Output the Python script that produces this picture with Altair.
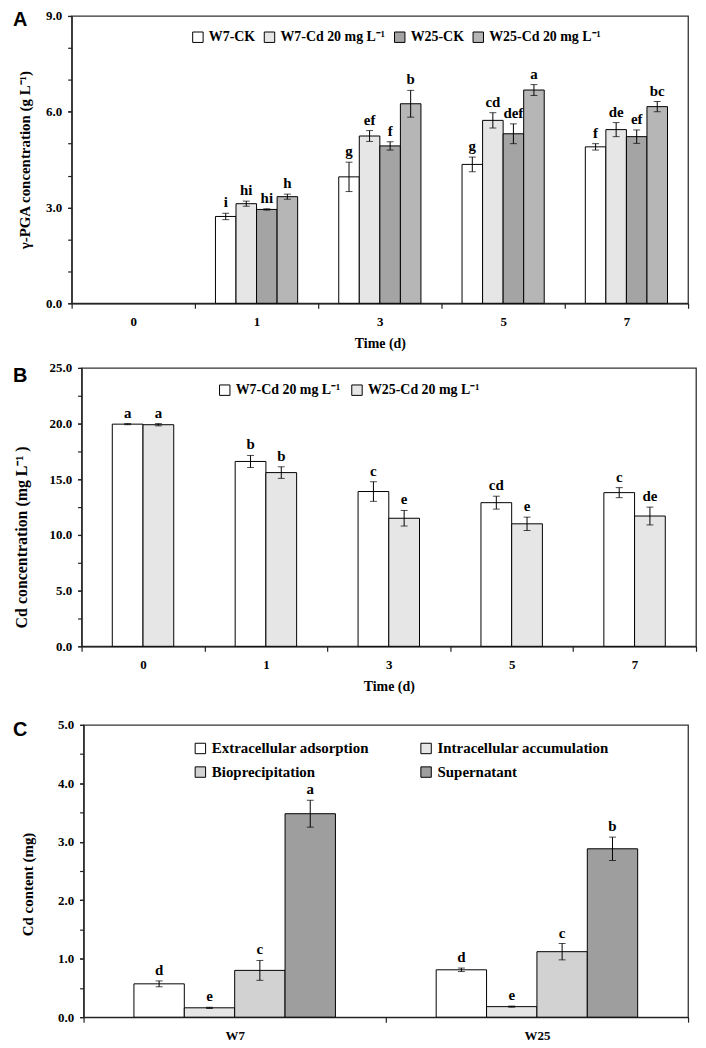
import altair as alt
import pandas as pd

SERIF = "Liberation Serif"
SANS = "Liberation Sans"

# ---------------- Panel A data ----------------
a_days_axis = ["0", "1", "3", "5", "7"]
a_days = ["1", "3", "5", "7"]
a_series = ["W7-CK", "W7-Cd 20 mg L⁻¹", "W25-CK", "W25-Cd 20 mg L⁻¹"]
a_mean = {
    "W7-CK": [2.72, 3.96, 4.35, 4.90],
    "W7-Cd 20 mg L⁻¹": [3.12, 5.24, 5.73, 5.44],
    "W25-CK": [2.94, 4.93, 5.31, 5.22],
    "W25-Cd 20 mg L⁻¹": [3.34, 6.25, 6.68, 6.16],
}
a_err = {
    "W7-CK": [0.10, 0.46, 0.23, 0.10],
    "W7-Cd 20 mg L⁻¹": [0.08, 0.17, 0.24, 0.22],
    "W25-CK": [0.02, 0.13, 0.31, 0.21],
    "W25-Cd 20 mg L⁻¹": [0.08, 0.42, 0.17, 0.16],
}
a_sig = {
    "W7-CK": ["i", "g", "g", "f"],
    "W7-Cd 20 mg L⁻¹": ["hi", "ef", "cd", "de"],
    "W25-CK": ["hi", "f", "def", "ef"],
    "W25-Cd 20 mg L⁻¹": ["h", "b", "a", "bc"],
}
a_fill = ["#ffffff", "#e6e6e6", "#a4a4a4", "#b6b6b6"]

# ---------------- Panel B data ----------------
b_days = ["0", "1", "3", "5", "7"]
b_series = ["W7-Cd 20 mg L⁻¹ ", "W25-Cd 20 mg L⁻¹ "]
b_mean = {
    b_series[0]: [19.95, 16.6, 13.9, 12.9, 13.8],
    b_series[1]: [19.9, 15.6, 11.5, 11.0, 11.7],
}
b_err = {
    b_series[0]: [0.05, 0.54, 0.88, 0.58, 0.45],
    b_series[1]: [0.10, 0.52, 0.70, 0.60, 0.80],
}
b_sig = {
    b_series[0]: ["a", "b", "c", "cd", "c"],
    b_series[1]: ["a", "b", "e", "e", "de"],
}
b_fill = ["#ffffff", "#e6e6e6"]

# ---------------- Panel C data ----------------
c_groups = ["W7", "W25"]
c_series = ["Extracellular adsorption", "Intracellular accumulation",
            "Bioprecipitation", "Supernatant"]
c_mean = {
    "Extracellular adsorption": [0.57, 0.81],
    "Intracellular accumulation": [0.16, 0.18],
    "Bioprecipitation": [0.80, 1.12],
    "Supernatant": [3.48, 2.88],
}
c_err = {
    "Extracellular adsorption": [0.05, 0.03],
    "Intracellular accumulation": [0.01, 0.01],
    "Bioprecipitation": [0.17, 0.14],
    "Supernatant": [0.23, 0.20],
}
c_sig = {
    "Extracellular adsorption": ["d", "d"],
    "Intracellular accumulation": ["e", "e"],
    "Bioprecipitation": ["c", "c"],
    "Supernatant": ["a", "b"],
}
c_fill = ["#ffffff", "#e6e6e6", "#d2d2d2", "#9e9e9e"]

panel_letters = ["A", "B", "C"]


def make_df(cats, series, mean, err, sig):
    rows = []
    for s in series:
        for i, c in enumerate(cats):
            rows.append({"x": c, "s": s, "v": mean[s][i],
                         "lo": mean[s][i] - err[s][i],
                         "hi": mean[s][i] + err[s][i],
                         "sig": sig[s][i]})
    return pd.DataFrame(rows)


def panel(df, xdom, series, fills, ymax, tick_step, label_step, width, height,
          ytitle, ytitle_size, xtitle, letter, letter_dx, letter_dy, leg_x, leg_y,
          leg_cols, col_pad, leg_font, ytitle_pad, ytitle_y=None):
    n = int(round(ymax / tick_step))
    minor_vals = [round(i * tick_step, 3) for i in range(n + 1)]
    m = int(round(ymax / label_step))
    major_vals = [round(i * label_step, 3) for i in range(m + 1)]
    yscale = alt.Scale(domain=[0, ymax], nice=False, zero=True)
    xenc = alt.X("x:N", sort=xdom,
                 scale=alt.Scale(domain=xdom, paddingInner=0, paddingOuter=0),
                 axis=alt.Axis(title=xtitle, labelAngle=0, tickBand="extent",
                               tickSize=5, labelPadding=7, titlePadding=8.5))
    xo = alt.XOffset("s:N", sort=series,
                     scale=alt.Scale(domain=series, paddingInner=0, paddingOuter=1))
    main_axis = dict(title=ytitle, values=major_vals, format=".1f", tickSize=4,
                     labelPadding=6, titlePadding=ytitle_pad, orient="left",
                     titleFontSize=ytitle_size, labelOverlap=False)
    if ytitle_y is not None:
        main_axis["titleY"] = ytitle_y
    base = alt.Chart(df)
    bars = base.mark_bar(stroke="black", strokeWidth=1).encode(
        x=xenc, xOffset=xo,
        y=alt.Y("v:Q", scale=yscale, axis=alt.Axis(**main_axis)),
        fill=alt.Fill("s:N", sort=series,
                      scale=alt.Scale(domain=series, range=fills),
                      legend=alt.Legend(title=None, orient="none",
                                        legendX=leg_x, legendY=leg_y,
                                        direction="horizontal", columns=leg_cols,
                                        columnPadding=col_pad, rowPadding=8,
                                        labelFont=SERIF, labelFontSize=leg_font,
                                        labelFontWeight="bold", labelColor="black",
                                        labelLimit=400, labelOffset=4,
                                        symbolType="square", symbolSize=110,
                                        symbolStrokeColor="black",
                                        symbolStrokeWidth=1, padding=0)),
    )
    rules = base.mark_rule(color="black", strokeWidth=1).encode(
        x=xenc, xOffset=xo,
        y=alt.Y("lo:Q", scale=yscale,
                axis=alt.Axis(title=None, values=minor_vals, labels=False,
                              domain=False, tickSize=4, orient="left")),
        y2="hi:Q")
    cap_hi = base.mark_tick(color="black", thickness=1, size=7,
                            orient="horizontal").encode(
        x=xenc, xOffset=xo, y=alt.Y("hi:Q", scale=yscale, axis=None))
    cap_lo = base.mark_tick(color="black", thickness=1, size=7,
                            orient="horizontal").encode(
        x=xenc, xOffset=xo, y=alt.Y("lo:Q", scale=yscale, axis=None))
    txt = base.mark_text(font=SERIF, fontSize=15, fontWeight="bold", color="black",
                         baseline="bottom", dy=-3).encode(
        x=xenc, xOffset=xo, y=alt.Y("hi:Q", scale=yscale, axis=None),
        text="sig:N")
    let = alt.Chart(pd.DataFrame({"t": [letter]})).mark_text(
        font=SANS, fontSize=20, fontWeight="bold", color="black",
        align="left", baseline="top").encode(
        x=alt.value(letter_dx), y=alt.value(letter_dy), text="t:N")
    layer = alt.layer(bars, rules, cap_hi, cap_lo, txt, let).resolve_axis(
        y="independent").properties(width=width, height=height)
    spacer = alt.Chart(pd.DataFrame({"t": [""]})).mark_point(
        opacity=0, size=1).encode(x=alt.value(0), y=alt.value(0)).properties(
        width=1, height=1, view=alt.ViewBackground(stroke="transparent"))
    return alt.hconcat(spacer, layer, spacing=0)


dfA = make_df(a_days, a_series, a_mean, a_err, a_sig)
dfB = make_df(b_days, b_series, b_mean, b_err, b_sig)
dfC = make_df(c_groups, c_series, c_mean, c_err, c_sig)

rowA = panel(dfA, a_days_axis, a_series, a_fill, 9.0, 1.0, 3.0, 620, 289,
             "γ-PGA concentration (g L⁻¹)", 15, "Time (d)", panel_letters[0],
             -59, -5.5, 182, 14, 4, 6, 14, 13)
rowB = panel(dfB, b_days, b_series, b_fill, 25.0, 2.5, 5.0, 618, 280,
             "Cd concentration (mg L⁻¹ )", 16, "Time (d)", panel_letters[1],
             -69, -1.5, 209, 15, 2, 8, 14, 20, 170)
rowC = panel(dfC, c_groups, c_series, c_fill, 5.0, 0.5, 1.0, 608, 294,
             "Cd content (mg)", 15, None, panel_letters[2],
             -71, -4.5, 184, 16, 2, 50, 15, 22, 160)

RES = dict(x="independent", y="independent", fill="independent",
           xOffset="independent")

top = alt.concat(rowA, rowB, columns=1, spacing=9).resolve_scale(
    **RES).resolve_legend(fill="independent").resolve_axis(x="independent", y="independent")
chart = alt.concat(top, rowC, columns=1, spacing=23).resolve_scale(
    **RES).resolve_legend(fill="independent").resolve_axis(
    x="independent", y="independent").properties(
    padding={"top": -2, "left": 0, "right": 0, "bottom": 0}, background="white"
).configure_axis(
    labelFont=SERIF, labelFontSize=13, labelFontWeight="bold", labelColor="black",
    titleFont=SERIF, titleFontSize=14, titleFontWeight="bold", titleColor="black",
    domainColor="#222222", tickColor="#222222", domainWidth=1.3, tickWidth=1.2,
    grid=False,
).configure_view(stroke="#333333", strokeWidth=1.3)

chart.save("out.html", embed_options={"renderer": "svg", "actions": False})
